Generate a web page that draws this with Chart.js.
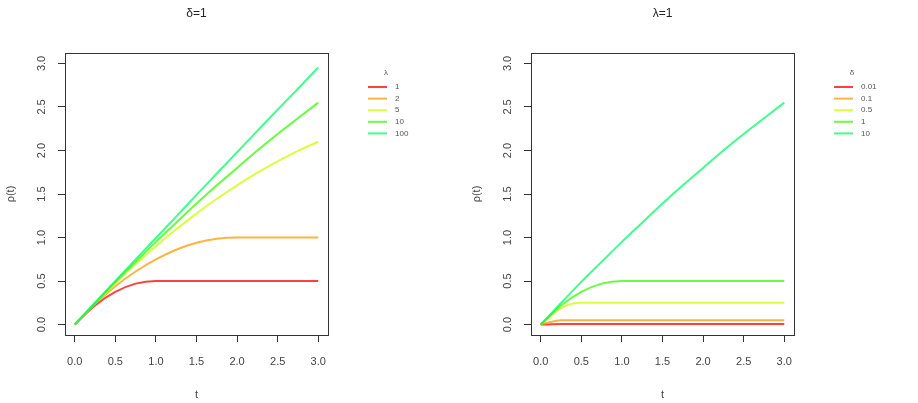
<!DOCTYPE html>
<html>
<head>
<meta charset="utf-8">
<script src="https://cdn.jsdelivr.net/npm/chart.js@4/dist/chart.umd.min.js"></script>
<style>
  body { margin: 0; background: #fff; }
  .panel { position: absolute; top: 0; width: 459px; height: 403px; }
</style>
</head>
<body>
<div class="panel" style="left:0"><canvas id="left" width="459" height="403"></canvas></div>
<div class="panel" style="left:459px"><canvas id="right" width="459" height="403"></canvas></div>
<script>
// time points and tick values
const tValues = [0, 0.25, 0.5, 0.75, 1, 1.25, 1.5, 1.75, 2, 2.25, 2.5, 2.75, 3];
const xTicks = [0, 0.5, 1, 1.5, 2, 2.5, 3];
const yTicks = [0, 0.5, 1, 1.5, 2, 2.5, 3];

// left panel: delta = 1, lambda varies
const lambdaLabels = ['1', '2', '5', '10', '100'];
const rhoLambda1   = [0, 0.22, 0.375, 0.47, 0.5, 0.5, 0.5, 0.5, 0.5, 0.5, 0.5, 0.5, 0.5];
const rhoLambda2   = [0, 0.235, 0.44, 0.61, 0.75, 0.86, 0.94, 0.985, 1, 1, 1, 1, 1];
const rhoLambda5   = [0, 0.245, 0.475, 0.695, 0.9, 1.095, 1.275, 1.445, 1.6, 1.745, 1.875, 1.995, 2.1];
const rhoLambda10  = [0, 0.247, 0.49, 0.72, 0.95, 1.17, 1.39, 1.6, 1.8, 2.0, 2.19, 2.37, 2.55];
const rhoLambda100 = [0, 0.25, 0.5, 0.747, 0.995, 1.24, 1.49, 1.735, 1.98, 2.225, 2.47, 2.71, 2.955];

// right panel: lambda = 1, delta varies
const deltaLabels = ['0.01', '0.1', '0.5', '1', '10'];
const rhoDelta001 = [0, 0.005, 0.005, 0.005, 0.005, 0.005, 0.005, 0.005, 0.005, 0.005, 0.005, 0.005, 0.005];
const rhoDelta01  = [0, 0.05, 0.05, 0.05, 0.05, 0.05, 0.05, 0.05, 0.05, 0.05, 0.05, 0.05, 0.05];
const rhoDelta05  = [0, 0.19, 0.25, 0.25, 0.25, 0.25, 0.25, 0.25, 0.25, 0.25, 0.25, 0.25, 0.25];
const rhoDelta1   = [0, 0.22, 0.375, 0.47, 0.5, 0.5, 0.5, 0.5, 0.5, 0.5, 0.5, 0.5, 0.5];
const rhoDelta10  = [0, 0.247, 0.49, 0.72, 0.95, 1.17, 1.39, 1.6, 1.8, 2.0, 2.19, 2.37, 2.55];

const lineColors = ['rgba(255,0,0,0.75)', 'rgba(255,153,0,0.75)', 'rgba(204,255,0,0.75)',
                    'rgba(51,255,0,0.75)', 'rgba(0,255,102,0.75)'];

const FONT = 'Liberation Sans, Arial, sans-serif';

function makeDatasets(series, labels) {
    return series.map((vals, i) => ({
        label: labels[i],
        data: tValues.map((t, j) => ({ x: t, y: vals[j] })),
        borderColor: lineColors[i],
        borderWidth: 2,
        pointRadius: 0,
        fill: false,
        cubicInterpolationMode: 'monotone',
        order: series.length - i
    }));
}

// R-like frame, rotated y labels, titles and legend
const rStyle = {
    id: 'rStyle',
    afterDraw(chart, args, opts) {
        const c = chart.ctx;
        const a = chart.chartArea;
        const xs = chart.scales.x, ys = chart.scales.y;
        c.save();
        c.strokeStyle = '#333';
        c.lineWidth = 1;
        c.strokeRect(Math.round(a.left) + 0.5, Math.round(a.top) + 0.5,
                     Math.round(a.right - a.left), Math.round(a.bottom - a.top));

        c.fillStyle = '#444';
        c.font = '11px ' + FONT;
        c.textAlign = 'center';
        c.textBaseline = 'middle';
        xTicks.forEach(v => {
            c.fillText(v.toFixed(1), xs.getPixelForValue(v), 362);
        });
        yTicks.forEach(v => {
            c.save();
            c.translate(a.left - 23, ys.getPixelForValue(v));
            c.rotate(-Math.PI / 2);
            c.fillText(v.toFixed(1), 0, 0);
            c.restore();
        });

        // axis titles
        c.fillText('t', (a.left + a.right) / 2, 395);
        c.save();
        c.translate(a.left - 54, (a.top + a.bottom) / 2);
        c.rotate(-Math.PI / 2);
        c.fillText('\u03c1(t)', 0, 0);
        c.restore();

        // main title
        c.fillStyle = '#222';
        c.font = '12px ' + FONT;
        c.fillText(opts.title, (a.left + a.right) / 2, 14);

        // legend
        const lx = a.right + opts.legendOffset;
        c.font = '8px ' + FONT;
        c.fillStyle = '#555';
        c.fillText(opts.legendTitle, lx + 18, 73);
        c.textAlign = 'left';
        chart.data.datasets.forEach((ds, i) => {
            const y = 87 + i * 11.6;
            c.strokeStyle = ds.borderColor;
            c.lineWidth = 2;
            c.beginPath();
            c.moveTo(lx, y);
            c.lineTo(lx + 19, y);
            c.stroke();
            c.fillText(ds.label, lx + 27, y);
        });
        c.restore();
    }
};

function makeChart(id, datasets, title, legendTitle, padLeftAxis, padRight) {
    return new Chart(document.getElementById(id), {
        type: 'line',
        data: { datasets: datasets },
        plugins: [rStyle],
        options: {
            responsive: false,
            animation: false,
            layout: { padding: { top: 53, right: padRight, bottom: 0, left: 0 } },
            plugins: {
                legend: { display: false },
                tooltip: { enabled: false },
                rStyle: { title: title, legendTitle: legendTitle, legendOffset: 40 }
            },
            scales: {
                x: {
                    type: 'linear',
                    min: -0.12,
                    max: 3.12,
                    afterBuildTicks: s => { s.ticks = xTicks.map(v => ({ value: v })); },
                    afterFit: s => { s.height = 68; },
                    ticks: { display: false },
                    grid: { drawOnChartArea: false, tickLength: 7, color: '#333' },
                    border: { display: false }
                },
                y: {
                    type: 'linear',
                    min: -0.12,
                    max: 3.12,
                    afterBuildTicks: s => { s.ticks = yTicks.map(v => ({ value: v })); },
                    afterFit: s => { s.width = padLeftAxis; },
                    ticks: { display: false },
                    grid: { drawOnChartArea: false, tickLength: 7, color: '#333' },
                    border: { display: false }
                }
            }
        }
    });
}

makeChart('left',
    makeDatasets([rhoLambda1, rhoLambda2, rhoLambda5, rhoLambda10, rhoLambda100], lambdaLabels),
    '\u03b4=1', '\u03bb', 65, 131);
makeChart('right',
    makeDatasets([rhoDelta001, rhoDelta01, rhoDelta05, rhoDelta1, rhoDelta10], deltaLabels),
    '\u03bb=1', '\u03b4', 72, 124);
</script>
</body>
</html>
